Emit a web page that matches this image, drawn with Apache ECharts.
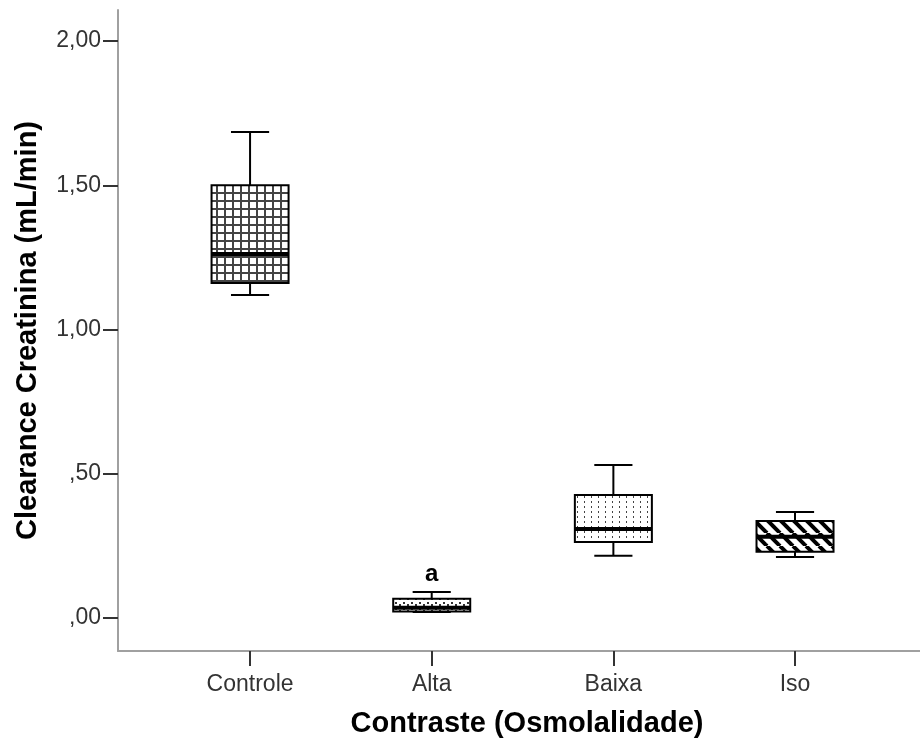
<!DOCTYPE html>
<html>
<head>
<meta charset="utf-8">
<script src="https://cdn.jsdelivr.net/npm/echarts@6/dist/echarts.min.js"></script>
<style>html,body{margin:0;padding:0;background:#fff;}#c{width:920px;height:744px;}</style>
</head>
<body>
<div id="c"></div>
<script>
const categories = ['Controle', 'Alta', 'Baixa', 'Iso'];
const whiskerLow  = [1.120, 0.020, 0.215, 0.211];
const quart1      = [1.161, 0.022, 0.263, 0.229];
const median      = [1.262, 0.035, 0.308, 0.281];
const quart3      = [1.500, 0.066, 0.426, 0.336];
const whiskerHigh = [1.685, 0.090, 0.530, 0.367];
const annotations = ['', 'a', '', ''];
const yTickValues = [0, 0.5, 1, 1.5, 2];
const yTickLabels = [',00', ',50', '1,00', '1,50', '2,00'];

function makeTile(w, h, draw) {
  const c = document.createElement('canvas');
  c.width = w; c.height = h;
  const g = c.getContext('2d');
  g.fillStyle = '#fff'; g.fillRect(0, 0, w, h);
  draw(g, w, h);
  return { image: c, repeat: 'repeat' };
}
const patterns = [
  makeTile(8, 8, (g) => { g.fillStyle = '#444'; g.fillRect(0, 0, 2, 8); g.fillRect(0, 0, 8, 2); }),
  makeTile(8, 6, (g) => { g.fillStyle = '#333'; g.fillRect(3, 2, 2, 2); g.fillRect(0, 4, 1, 2); g.fillRect(7, 4, 1, 2); }),
  makeTile(7, 5, (g) => { g.fillStyle = '#444'; g.fillRect(3, 1, 1, 2); }),
  makeTile(13, 13, (g, w, h) => {
    g.strokeStyle = '#000'; g.lineWidth = 4;
    for (const o of [-13, 0, 13]) { g.beginPath(); g.moveTo(o, 0); g.lineTo(o + 13, 13); g.stroke(); }
  })
];

const seriesData = categories.map((c, i) => [i + 1, whiskerLow[i], quart1[i], median[i], quart3[i], whiskerHigh[i]]);

const chart = echarts.init(document.getElementById('c'), null, { renderer: 'canvas' });
chart.setOption({
  animation: false,
  backgroundColor: '#fff',
  grid: { left: 118, right: 0, top: 10, bottom: 93 },
  xAxis: {
    type: 'value', min: 0.273, max: 4.688,
    name: 'Contraste (Osmolalidade)', nameLocation: 'middle', nameGap: 58,
    nameTextStyle: { fontFamily: 'Liberation Sans', fontWeight: 'bold', fontSize: 29, color: '#000', padding: [0, 0, 0, 16] },
    axisLine: { show: true, onZero: false, lineStyle: { color: '#a0a0a0', width: 2 } },
    axisTick: { show: true, customValues: [1, 2, 3, 4], length: 15, lineStyle: { color: '#333', width: 2 } },
    axisLabel: { customValues: [1, 2, 3, 4], formatter: v => categories[Math.round(v) - 1] || '', margin: 22,
      fontFamily: 'Liberation Sans', fontSize: 23, color: '#333' },
    splitLine: { show: false }
  },
  yAxis: {
    type: 'value', min: -0.115, max: 2.108,
    name: 'Clearance Creatinina (mL/min)', nameLocation: 'middle', nameGap: 76, nameRotate: 90,
    nameTextStyle: { fontFamily: 'Liberation Sans', fontWeight: 'bold', fontSize: 29, color: '#000' },
    axisLine: { show: true, onZero: false, lineStyle: { color: '#a0a0a0', width: 2 } },
    axisTick: { show: true, customValues: yTickValues, length: 15, lineStyle: { color: '#333', width: 2 } },
    axisLabel: { customValues: yTickValues, formatter: v => { const i = yTickValues.findIndex(t => Math.abs(t - v) < 1e-6); return i >= 0 ? yTickLabels[i] : ''; },
      margin: 17, fontFamily: 'Liberation Sans', fontSize: 23, color: '#333' },
    splitLine: { show: false }
  },
  series: [{
    type: 'custom',
    data: seriesData,
    clip: false,
    renderItem: function (params, api) {
      const x = api.value(0);
      const lo = api.coord([x, api.value(1)]);
      const q1 = api.coord([x, api.value(2)]);
      const md = api.coord([x, api.value(3)]);
      const q3 = api.coord([x, api.value(4)]);
      const hi = api.coord([x, api.value(5)]);
      const bw = api.size([0.424, 0])[0];
      const cw = api.size([0.21, 0])[0];
      const cx = hi[0];
      const ls = { stroke: '#000', lineWidth: 2 };
      const children = [
        { type: 'line', shape: { x1: cx, y1: q3[1], x2: cx, y2: hi[1] }, style: ls },
        { type: 'line', shape: { x1: cx, y1: q1[1], x2: cx, y2: lo[1] }, style: ls },
        { type: 'line', shape: { x1: cx - cw / 2, y1: hi[1], x2: cx + cw / 2, y2: hi[1] }, style: ls },
        { type: 'line', shape: { x1: cx - cw / 2, y1: lo[1], x2: cx + cw / 2, y2: lo[1] }, style: ls },
        { type: 'rect', shape: { x: cx - bw / 2, y: q3[1], width: bw, height: q1[1] - q3[1] },
          style: { fill: patterns[params.dataIndex], stroke: '#000', lineWidth: 2 } },
        { type: 'line', shape: { x1: cx - bw / 2, y1: md[1], x2: cx + bw / 2, y2: md[1] }, style: { stroke: '#000', lineWidth: 4 } }
      ];
      const ann = annotations[params.dataIndex];
      if (ann) {
        children.push({ type: 'text', style: { text: ann, x: cx, y: hi[1] - 6, align: 'center', verticalAlign: 'bottom',
          fontFamily: 'Liberation Sans', fontWeight: 'bold', fontSize: 24, fill: '#000' } });
      }
      return { type: 'group', children };
    }
  }]
});
</script>
</body>
</html>
